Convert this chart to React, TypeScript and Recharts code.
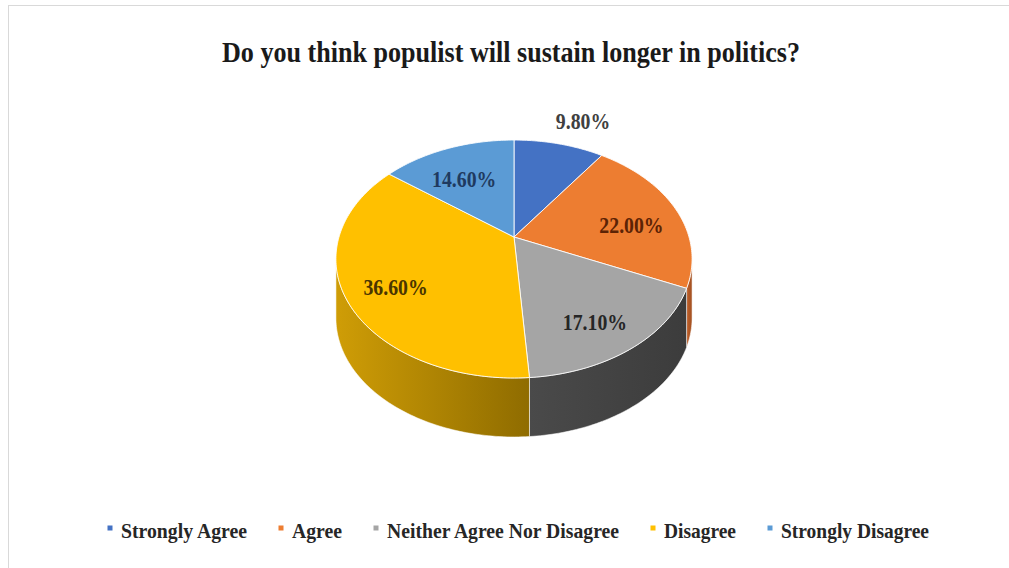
import React from 'react';
import { PieChart, Pie, Cell, Legend, Customized } from 'recharts';

// ---- data ----
const CATEGORIES = ['Strongly Agree', 'Agree', 'Neither Agree Nor Disagree', 'Disagree', 'Strongly Disagree'];
const VALUES = [9.8, 22.0, 17.1, 36.6, 14.6];
const LABELS = ['9.80%', '22.00%', '17.10%', '36.60%', '14.60%'];
const TITLE = 'Do you think populist will sustain longer in politics?';

// ---- styles ----
const TOP_COLORS = ['#4472C4', '#ED7D31', '#A5A5A5', '#FFC000', '#5B9BD5'];
const SIDE_COLORS: [string, string][] = [
  ['#2f5597', '#264a85'],
  ['#c0602a', '#a04f20'],
  ['#4a4a4a', '#3c3c3c'],
  ['#cf9d06', '#8f6c00'],
  ['#41719c', '#355f85'],
];
const LABEL_COLORS = ['#404040', '#5c2305', '#262626', '#4a3500', '#1f3a60'];
const LEGEND_WIDTHS = [126, 50, 232, 72, 148];
const FONT = "'Liberation Serif', 'Times New Roman', serif";

// perspective parameters of the tilted disc
const K = 0.185;
const Y_RATIO = 0.6566;
const DEPTH = 59;

const tableData = CATEGORIES.map((name, i) => ({ name, value: VALUES[i], label: LABELS[i] }));

function project(cx: number, cy: number, r: number, thetaDeg: number, f = 1): [number, number] {
  const t = (thetaDeg * Math.PI) / 180;
  const u = f * Math.sin(t);
  const v = -f * Math.cos(t);
  const den = 1 - K * v;
  return [cx + (r * u) / den, cy + (r * Y_RATIO * v) / den];
}

function arcPoints(cx: number, cy: number, r: number, a1: number, a2: number) {
  const steps = Math.max(2, Math.ceil(Math.abs(a2 - a1)));
  const pts: [number, number][] = [];
  for (let i = 0; i <= steps; i++) pts.push(project(cx, cy, r, a1 + ((a2 - a1) * i) / steps));
  return pts;
}

const FRONT_START = (Math.acos(-K) * 180) / Math.PI;
const FRONT_END = 360 - FRONT_START;

const Slice3D = (props: any) => {
  const { cx, cy, outerRadius, startAngle, endAngle, fill } = props;
  let idx = CATEGORIES.indexOf(props.name ?? (props.payload && props.payload.name));
  if (idx < 0) idx = props.index ?? 0;
  const t1 = 90 - Math.max(startAngle, endAngle);
  const t2 = 90 - Math.min(startAngle, endAngle);
  const pts = arcPoints(cx, cy, outerRadius, t1, t2);
  const top = `M${cx},${cy} L` + pts.map((p) => `${p[0].toFixed(2)},${p[1].toFixed(2)}`).join(' L') + ' Z';
  const a1 = Math.max(t1, FRONT_START);
  const a2 = Math.min(t2, FRONT_END);
  let wall: React.ReactNode = null;
  if (a2 > a1) {
    const up = arcPoints(cx, cy, outerRadius, a1, a2);
    const down = up.map((p) => [p[0], p[1] + DEPTH] as [number, number]).reverse();
    const d =
      'M' + up.concat(down).map((p) => `${p[0].toFixed(2)},${p[1].toFixed(2)}`).join(' L') + ' Z';
    const gid = `wall-grad-${idx}`;
    wall = (
      <g>
        <defs>
          <linearGradient id={gid} x1="0" y1="0" x2="1" y2="0">
            <stop offset="0%" stopColor={SIDE_COLORS[idx][0]} />
            <stop offset="100%" stopColor={SIDE_COLORS[idx][1]} />
          </linearGradient>
        </defs>
        <path d={d} fill={`url(#${gid})`} stroke="rgba(255,255,255,0.55)" strokeWidth={1} />
      </g>
    );
  }
  return (
    <g>
      {wall}
      <path d={top} fill={fill} stroke="rgba(255,255,255,0.85)" strokeWidth={1} />
    </g>
  );
};

const renderLabel = (p: any) => {
  const { cx, cy, outerRadius, midAngle, percent, index } = p;
  const theta = 90 - midAngle;
  const outside = percent < 0.1;
  const [x0, y0] = project(cx, cy, outerRadius, theta, outside ? 1.3 : 0.72);
  const side = Math.sin((theta * Math.PI) / 180) >= 0 ? 1 : -1;
  const x = outside ? x0 + 13 * side : x0;
  const y = outside ? y0 : y0 + 9;
  return (
    <text
      x={0}
      y={0}
      transform={`translate(${x.toFixed(2)},${y.toFixed(2)}) scale(0.86,1)`}
      textAnchor="middle"
      dominantBaseline="central"
      fontFamily={FONT}
      fontWeight="bold"
      fontSize={23}
      fill={LABEL_COLORS[index]}
    >
      {tableData[index].label}
    </text>
  );
};

const renderLegend = (props: any) => {
  const payload = [...(props.payload || [])].sort(
    (a: any, b: any) => CATEGORIES.indexOf(a.value) - CATEGORIES.indexOf(b.value)
  );
  let x = 110;
  const items = payload.map((entry: any, i: number) => {
    const ci = CATEGORIES.indexOf(entry.value);
    const w = LEGEND_WIDTHS[ci >= 0 ? ci : i] ?? 100;
    const mx = x;
    x = x + 11 + w + 34;
    return (
      <g key={`leg-${i}`}>
        <rect x={mx - 2.5} y={20.5} width={5} height={5} fill={entry.color} />
        <text
          x={mx + 11}
          y={33}
          textLength={w}
          lengthAdjust="spacingAndGlyphs"
          fontFamily={FONT}
          fontWeight="bold"
          fontSize={22}
          fill="#262626"
        >
          {entry.value}
        </text>
      </g>
    );
  });
  return (
    <svg width={1009} height={44} style={{ display: 'block' }}>
      {items}
    </svg>
  );
};

const Decorations = () => (
  <g>
    <rect x={8.5} y={5.5} width={1010} height={570} fill="none" stroke="#d9d9d9" strokeWidth={1} />
    <text
      x={222}
      y={62}
      textLength={578}
      lengthAdjust="spacingAndGlyphs"
      fontFamily={FONT}
      fontWeight="bold"
      fontSize={30}
      fill="#1a1a1a"
    >
      {TITLE}
    </text>
  </g>
);

export default function App() {
  return (
    <div style={{ position: 'absolute', left: 0, top: 0, width: 1009, height: 568, background: '#fff' }}>
      <PieChart width={1009} height={568} margin={{ top: 0, right: 0, bottom: 0, left: 0 }}>
        <Customized component={Decorations} />
        <Pie
          data={tableData}
          dataKey="value"
          nameKey="name"
          cx={514}
          cy={237}
          outerRadius={175}
          startAngle={90}
          endAngle={-270}
          isAnimationActive={false}
          shape={Slice3D}
          activeShape={Slice3D}
          inactiveShape={Slice3D}
          label={renderLabel}
          labelLine={false}
          stroke="none"
        >
          {tableData.map((d, i) => (
            <Cell key={d.name} fill={TOP_COLORS[i]} />
          ))}
        </Pie>
        <Legend
          verticalAlign="bottom"
          itemSorter={null as any}
          content={renderLegend}
          wrapperStyle={{ position: 'absolute', left: 0, top: 505, width: 1009, height: 44 }}
        />
      </PieChart>
    </div>
  );
}
